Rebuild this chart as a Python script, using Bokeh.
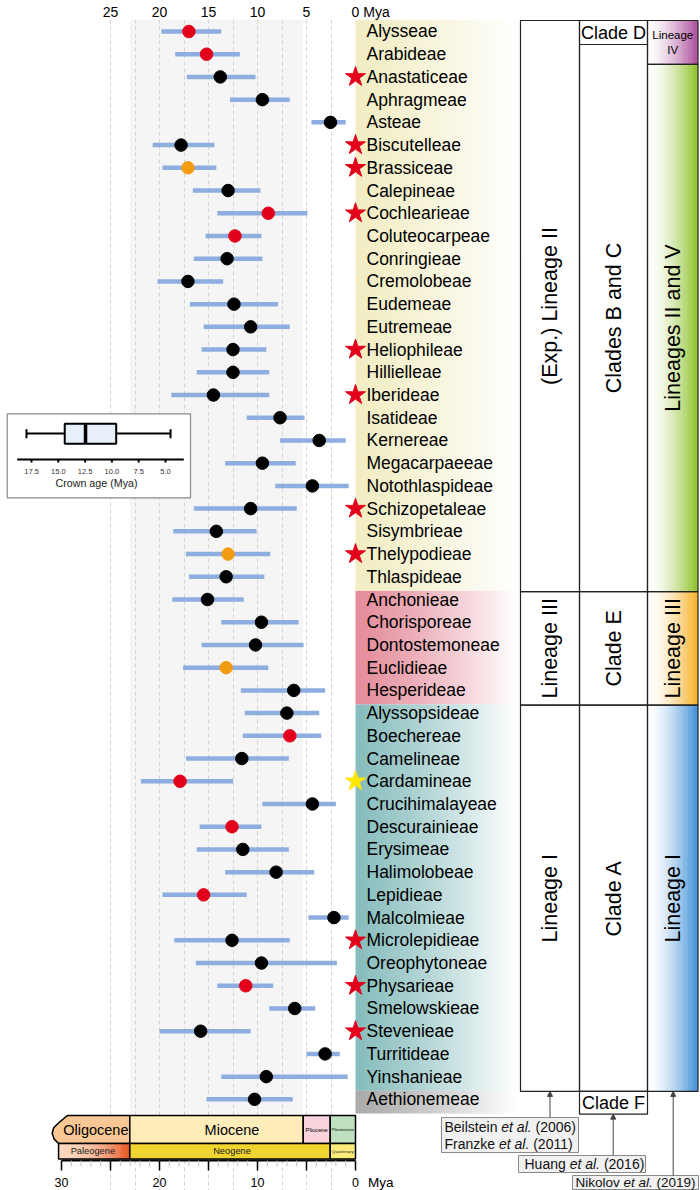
import numpy as np
from bokeh.plotting import figure
from bokeh.models import (Range1d, LinearAxis, FixedTicker, Grid, Arrow,
                          NormalHead, ColumnDataSource)
from bokeh.core.properties import value
from bokeh.embed import file_html
from bokeh.resources import INLINE

FONT = "Liberation Sans"

# ---------------- data ----------------
tribes = ["Alysseae", "Arabideae", "Anastaticeae", "Aphragmeae", "Asteae", "Biscutelleae",
          "Brassiceae", "Calepineae", "Cochlearieae", "Coluteocarpeae", "Conringieae",
          "Cremolobeae", "Eudemeae", "Eutremeae", "Heliophileae", "Hillielleae", "Iberideae",
          "Isatideae", "Kernereae", "Megacarpaeeae", "Notothlaspideae", "Schizopetaleae",
          "Sisymbrieae", "Thelypodieae", "Thlaspideae",
          "Anchonieae", "Chorisporeae", "Dontostemoneae", "Euclidieae", "Hesperideae",
          "Alyssopsideae", "Boechereae", "Camelineae", "Cardamineae", "Crucihimalayeae",
          "Descurainieae", "Erysimeae", "Halimolobeae", "Lepidieae", "Malcolmieae",
          "Microlepidieae", "Oreophytoneae", "Physarieae", "Smelowskieae", "Stevenieae",
          "Turritideae", "Yinshanieae", "Aethionemeae"]

crown_age = [17.0, 15.2, 13.8, 9.5, 2.55, 17.8, 17.1, 13.0, 8.9, 12.3, 13.1, 17.1, 12.4,
             10.7, 12.5, 12.5, 14.5, 7.7, 3.7, 9.5, 4.4, 10.7, 14.2, 13.0, 13.2,
             15.1, 9.6, 10.2, 13.2, 6.3,
             7.0, 6.7, 11.6, 17.9, 4.4, 12.6, 11.5, 8.1, 15.5, 2.2, 12.6, 9.6, 11.2, 6.2,
             15.8, 3.1, 9.1,
             10.3]
hpd_old = [19.8, 18.4, 17.2, 12.8, 4.5, 20.7, 19.7, 16.6, 14.1, 15.3, 16.5, 20.2, 16.9,
           15.5, 15.7, 16.2, 18.8, 11.1, 7.7, 13.3, 8.2, 16.5, 18.6, 17.3, 17.0,
           18.7, 13.7, 15.7, 17.6, 11.7,
           11.3, 11.5, 17.3, 21.9, 9.5, 15.9, 16.2, 13.3, 19.7, 4.8, 18.5, 16.3, 14.1, 8.8,
           20.0, 5.0, 13.7,
           15.2]
hpd_young = [13.7, 11.8, 10.2, 6.7, 1.0, 14.4, 14.2, 9.7, 4.9, 9.6, 9.5, 13.5, 7.9,
             6.7, 9.1, 8.8, 8.8, 5.2, 1.0, 6.1, 0.7, 6.0, 10.1, 8.7, 9.3,
             11.4, 5.8, 5.3, 8.9, 3.1,
             3.7, 3.5, 6.8, 12.5, 2.0, 9.6, 6.8, 4.2, 11.1, 0.7, 6.7, 1.9, 8.4, 4.1,
             10.7, 1.6, 0.8,
             6.4]
red_dot_tribes = ["Alysseae", "Arabideae", "Cochlearieae", "Coluteocarpeae", "Boechereae",
                  "Cardamineae", "Descurainieae", "Lepidieae", "Physarieae"]
orange_dot_tribes = ["Brassiceae", "Thelypodieae", "Euclidieae"]
red_star_tribes = ["Anastaticeae", "Biscutelleae", "Brassiceae", "Cochlearieae", "Heliophileae",
                   "Iberideae", "Schizopetaleae", "Thelypodieae", "Microlepidieae",
                   "Physarieae", "Stevenieae"]
yellow_star_tribes = ["Cardamineae"]

# groups (first row, last row)
group_rows = [(0, 24), (25, 29), (30, 46), (47, 47)]
group_band_colors = ["#f2edc3", "#e48c9b", "#88bdbd", "#ababab"]
col1_labels = ["(Exp.) Lineage II", "Lineage III", "Lineage I"]
col2_labels = ["Clades B and C", "Clade E", "Clade A"]
col3_labels = ["Lineages II and V", "Lineage III", "Lineage I"]
col3_colors = ["#8cc026", "#f5ae22", "#3b8dd6"]

# inset box plot of crown ages (Mya)
box_whisker_old = 17.97
box_q_old = 14.4
box_median = 12.46
box_q_young = 9.6
box_whisker_young = 4.53
inset_ticks = [17.5, 15.0, 12.5, 10.0, 7.5, 5.0]

# geologic time scale (Mya)
epoch_names = ["Oligocene", "Miocene", "Pliocene", "Pleistocene"]
epoch_start = [33.9, 23.03, 5.333, 2.58]
epoch_end = [23.03, 5.333, 2.58, 0.0]
epoch_colors = ["#f8c793", "#feedb9", "#f9d3dc", "#bfe0bf"]
period_names = ["Paleogene", "Neogene", "Quaternary"]
period_start = [33.9, 23.03, 2.58]
period_end = [23.03, 2.58, 0.0]
period_colors = ["#fbd6bd", "#f0d531", "#fbeb7b"]
time_major = [0, 5, 10, 15, 20, 25, 30]
time_labelled = [30, 20, 10, 0]
time_minor = list(range(0, 31))

# references (author, year) lines
refs = [[("Beilstein", "(2006)"), ("Franzke", "(2011)")],
        [("Huang", "(2016)")],
        [("Nikolov", "(2019)")]]

# ---------------- helpers ----------------
def px2age(px):
    # horizontal pixel -> age on the main (Mya) scale
    return (355.0 - px) / 9.8

def y2row(py):
    # vertical pixel -> row unit
    return (py - 30.0) / 22.74

def hexrgb(c):
    return np.array([int(c[i:i + 2], 16) for i in (1, 3, 5)], dtype=float)

def mix(c1, c2, t):
    a, b = hexrgb(c1), hexrgb(c2)
    c = a + (b - a) * t
    return "#%02x%02x%02x" % tuple(int(round(v)) for v in c)

def gradient(p, x0, x1, y0, y1, c0, c1, n=48, power=1.0):
    edges = np.linspace(x0, x1, n + 1)
    ts = ((np.arange(n) + 0.5) / n) ** power
    cols = [mix(c0, c1, t) for t in ts]
    eps = (x1 - x0) / n * 0.3
    right = edges[1:] + eps
    right[-1] = edges[-1]
    p.quad(left=edges[:-1], right=right, top=[y0] * n, bottom=[y1] * n,
           fill_color=cols, line_color=None)

# ---------------- figure ----------------
W, H = 700, 1190
p = figure(width=W, height=H, x_range=Range1d(px2age(0), px2age(W)),
           y_range=Range1d(y2row(H), y2row(18)), x_axis_type=None, y_axis_type=None,
           output_backend="svg", toolbar_location=None,
           min_border_left=0, min_border_right=0, min_border_top=18, min_border_bottom=0,
           outline_line_color=None, background_fill_color="white",
           border_fill_color="white")

n = len(tribes)
rows = np.arange(n)

# Miocene shading
shade = p.quad(left=[epoch_start[1]], right=[epoch_end[1]], top=[y2row(18)],
               bottom=[y2row(1113)], fill_color="#f5f5f5", line_color=None)
shade.level = "image"

# grid lines every 2.5 Myr
grid = Grid(dimension=0, ticker=FixedTicker(ticks=list(np.arange(2.5, 25.01, 2.5))),
            grid_line_color="#d4d4d4", grid_line_dash="4 3", grid_line_width=1)
p.add_layout(grid)

# top axis (the unit is an extra labelled tick)
MYA_TOP = px2age(376)
ax_top = LinearAxis(ticker=FixedTicker(ticks=[0, 5, 10, 15, 20, 25, MYA_TOP]),
                    major_label_overrides={MYA_TOP: "Mya"},
                    axis_line_color=None, major_tick_line_color=None,
                    minor_tick_line_color=None, major_tick_out=0, major_tick_in=0,
                    major_label_standoff=0,
                    major_label_text_font=FONT, major_label_text_font_size="14px",
                    major_label_text_color="black")
p.add_layout(ax_top, "above")

# label bands (fade to white)
band_right = px2age(516)
for (r0, r1), col in zip(group_rows, group_band_colors):
    top = y2row(18) if r0 == 0 else r0 - 0.5 + 0.12
    bot = r1 + 0.5 + 0.12
    gradient(p, 0.0, band_right, top, bot, col, "#ffffff", n=40, power=1.2)

# geologic time scale
TS_LEFT = 30.3
E_TOP, E_MID, E_BOT = y2row(1115), y2row(1143), y2row(1158.5)
olig_x = [TS_LEFT, 30.75, 30.95, 30.8, 30.2, 29.7, 29.4, epoch_end[0], epoch_end[0]]
olig_y = [E_MID, 48.75, 48.5, 48.25, 48.0, 47.82, E_TOP, E_TOP, E_MID]
p.patch(olig_x, olig_y, fill_color=epoch_colors[0], line_color="black", line_width=1.5)
p.quad(left=epoch_start[1:], right=epoch_end[1:], top=[E_TOP] * 3, bottom=[E_MID] * 3,
       fill_color=epoch_colors[1:], line_color="black", line_width=1.5)
gradient(p, TS_LEFT, period_end[0], E_MID, E_BOT, period_colors[0], "#e6501a", n=40, power=2.2)
p.quad(left=[TS_LEFT] + period_start[1:], right=period_end, top=[E_MID] * 3,
       bottom=[E_BOT] * 3, fill_color=[None] + period_colors[1:], line_color="black",
       line_width=1.5)
epoch_label_x = [26.5, 12.6, 3.96, 1.29]
epoch_fs = ["14.5px", "14.5px", "5.8px", "4.3px"]
for nm, x, fs in zip(epoch_names, epoch_label_x, epoch_fs):
    p.text(x=[x], y=[(E_TOP + E_MID) / 2], text=[nm], text_font=value(FONT),
           text_font_size=value(fs), text_align="center", text_baseline="middle",
           text_color="black")
period_label_x = [26.8, 12.6, 1.29]
period_fs = ["9.3px", "9.3px", "4.3px"]
for nm, x, fs in zip(period_names, period_label_x, period_fs):
    p.text(x=[x], y=[(E_MID + E_BOT) / 2], text=[nm], text_font=value(FONT),
           text_font_size=value(fs), text_align="center", text_baseline="middle",
           text_color="#222222")

# time-scale ruler
AX_Y = y2row(1160)
p.segment(x0=[max(time_major)], x1=[min(time_major)], y0=[AX_Y], y1=[AX_Y],
          line_color="black", line_width=2)
p.segment(x0=time_minor, x1=time_minor, y0=[AX_Y] * len(time_minor),
          y1=[y2row(1166)] * len(time_minor), line_color="#c4c4c4", line_width=1)
p.segment(x0=time_major, x1=time_major, y0=[AX_Y] * len(time_major),
          y1=[y2row(1170)] * len(time_major), line_color="black", line_width=1.5)
p.text(x=time_labelled, y=[y2row(1182)] * len(time_labelled),
       text=[str(t) for t in time_labelled], text_font=value(FONT),
       text_font_size=value("12.5px"), text_align="center", text_baseline="middle",
       text_color="black")
p.text(x=[px2age(367.5)], y=[y2row(1182)], text=["Mya"], text_font=value(FONT),
       text_font_size=value("13.5px"), text_align="left", text_baseline="middle",
       text_color="black")

# inset box plot (own small scale mapped into main coordinates)
INSET_K, INSET_OFF = 10.72 / 9.8, 13.918
def inset_x(v):
    return INSET_OFF + INSET_K * np.asarray(v, dtype=float)

p.quad(left=[px2age(6.7)], right=[px2age(190)], top=[y2row(412.7)], bottom=[y2row(496.7)],
       fill_color="white", line_color="#8a8a8a", line_width=1.2)
wy = y2row(432.3)
p.segment(x0=[inset_x(box_whisker_old), inset_x(box_q_young)],
          x1=[inset_x(box_q_old), inset_x(box_whisker_young)],
          y0=[wy, wy], y1=[wy, wy], line_color="black", line_width=2)
p.segment(x0=[inset_x(box_whisker_old), inset_x(box_whisker_young)],
          x1=[inset_x(box_whisker_old), inset_x(box_whisker_young)],
          y0=[y2row(428)] * 2, y1=[y2row(437)] * 2, line_color="black", line_width=2)
p.quad(left=[inset_x(box_q_old)], right=[inset_x(box_q_young)], top=[y2row(422.7)],
       bottom=[y2row(442.7)], fill_color="#e6effa", line_color="black", line_width=2)
p.segment(x0=[inset_x(box_median)], x1=[inset_x(box_median)], y0=[y2row(422.7)],
          y1=[y2row(442.7)], line_color="black", line_width=3.5)
p.segment(x0=[px2age(16.7)], x1=[px2age(183.3)], y0=[y2row(458.3)], y1=[y2row(458.3)],
          line_color="black", line_width=2)
p.segment(x0=inset_x(inset_ticks), x1=inset_x(inset_ticks), y0=[y2row(458.3)] * 6,
          y1=[y2row(461.5)] * 6, line_color="black", line_width=2)
p.text(x=inset_x(inset_ticks), y=[y2row(470.7)] * 6, text=["%.1f" % t for t in inset_ticks],
       text_font=value(FONT), text_font_size=value("7.5px"), text_align="center",
       text_baseline="middle", text_color="#333333")
p.text(x=[px2age(96)], y=[y2row(482.3)], text=["Crown age (Mya)"], text_font=value(FONT),
       text_font_size=value("10.7px"), text_align="center", text_baseline="middle",
       text_color="#222222")

# HPD bars and crown ages
dot_col = ["#e2001a" if t in red_dot_tribes else "#f39c11" if t in orange_dot_tribes
           else "black" for t in tribes]
src = ColumnDataSource(dict(tribe=tribes, row=rows, age=crown_age, old=hpd_old,
                            young=hpd_young, col=dot_col))
p.segment(x0="old", x1="young", y0="row", y1="row", source=src, line_color="#8eaee0",
          line_width=4.5)
p.scatter(x="age", y="row", source=src, size=12.5, fill_color="col", line_color="col",
          marker="circle")

# stars
rs = [tribes.index(t) for t in red_star_tribes]
ys = [tribes.index(t) for t in yellow_star_tribes]
p.scatter(x=[0.0] * len(rs), y=rs, marker="star", size=21, fill_color="#e2001a",
          line_color="#e2001a")
p.scatter(x=[0.0] * len(ys), y=ys, marker="star", size=21, fill_color="#ffe800",
          line_color="#ffe800")

# tribe labels
p.text(x=[px2age(366)] * n, y=rows, text=tribes, text_font=value(FONT),
       text_font_size=value("17.5px"), text_align="left", text_baseline="middle",
       text_color="black")

# right-hand classification columns
C1L, C12, C23, C3R = px2age(520), px2age(579), px2age(647), px2age(697.5)
TOP = y2row(19)
CLADE_D_END, LIN4_END = y2row(43), y2row(63)
ends = [r1 + 0.5 + 0.15 for (r0, r1) in group_rows]
starts1 = [TOP, ends[0], ends[1]]
starts2 = [CLADE_D_END, ends[0], ends[1]]
starts3 = [LIN4_END, ends[0], ends[1]]

gradient(p, C23, C3R, TOP, LIN4_END, "#ffffff", "#a94898", n=30, power=1.5)
for s, e, col in zip(starts3, ends[:3], col3_colors):
    gradient(p, C23, C3R, s, e, "#ffffff", col, n=30, power=1.6)

BL = dict(fill_color=None, line_color="#222222", line_width=1.2)
p.quad(left=[C1L] * 3, right=[C12] * 3, top=starts1, bottom=ends[:3], **BL)
p.quad(left=[C12] * 4, right=[C23] * 4, top=[TOP] + starts2, bottom=[CLADE_D_END] + ends[:3], **BL)
p.quad(left=[C12], right=[C23], top=[ends[2]], bottom=[ends[3]], **BL)
p.quad(left=[C23] * 4, right=[C3R] * 4, top=[TOP] + starts3, bottom=[LIN4_END] + ends[:3], **BL)

rot = dict(angle=np.pi / 2, text_font=value(FONT), text_font_size=value("21.5px"),
           text_align="center", text_baseline="middle", text_color="black")
for labels, starts, xc in [(col1_labels, starts1, (C1L + C12) / 2),
                           (col2_labels, starts2, (C12 + C23) / 2),
                           (col3_labels, starts3, (C23 + C3R) / 2)]:
    p.text(x=[xc] * 3, y=[(s + e) / 2 for s, e in zip(starts, ends[:3])], text=labels, **rot)

p.text(x=[(C12 + C23) / 2], y=[y2row(32)], text=["Clade D"],
       text_font=value(FONT), text_font_size=value("18px"), text_align="center",
       text_baseline="middle")
p.text(x=[(C12 + C23) / 2], y=[(ends[2] + ends[3]) / 2], text=["Clade F"],
       text_font=value(FONT), text_font_size=value("18px"), text_align="center",
       text_baseline="middle")
p.text(x=[(C23 + C3R) / 2] * 2, y=[y2row(33.5), y2row(48.5)], text=["Lineage", "IV"],
       text_font=value(FONT), text_font_size=value("11.5px"), text_align="center",
       text_baseline="middle")

# reference boxes with arrows
CW = {' ': 278, '(': 333, ')': 333, '.': 278, '0': 556, '1': 556, '2': 556, '6': 556,
      '9': 556, 'B': 667, 'F': 611, 'H': 722, 'N': 722, 'a': 556, 'e': 556, 'i': 222,
      'k': 500, 'l': 222, 'n': 556, 'o': 556, 's': 500, 't': 278, 'u': 556, 'v': 500,
      'z': 500, 'g': 556, 'r': 333}

def twidth(s, fs):
    return sum(CW.get(c, 556) for c in s) * fs / 1000.0

def add_ref(lines, box, text_left, line_y, fs, arrow_x, arrow_to):
    x0, x1, y0, y1 = box
    p.quad(left=[px2age(x0)], right=[px2age(x1)], top=[y2row(y0)], bottom=[y2row(y1)],
           fill_color="#f1f1f1", line_color="#8a8a8a", line_width=1)
    for ly, (author, year) in zip(line_y, lines):
        xo = 0.0
        for piece, style in [(author, "normal"), ("et al.", "italic"), (year, "normal")]:
            p.text(x=[px2age(text_left)], y=[y2row(ly)], x_offset=xo, text=[piece],
                   text_font=value(FONT), text_font_size=value("%gpx" % fs),
                   text_font_style=style, text_align="left", text_baseline="middle",
                   text_color="#111111")
            xo += twidth(piece + " ", fs)
    p.add_layout(Arrow(x_start=px2age(arrow_x), y_start=y2row(y0), x_end=px2age(arrow_x),
                       y_end=arrow_to, line_color="#444444", line_width=1,
                       end=NormalHead(size=5, fill_color="#444444", line_color="#444444")))

add_ref(refs[0], (441, 578, 1117, 1152), 444, [1126.7, 1143], 14, 549.5, ends[2])
add_ref(refs[1], (518, 645, 1155, 1172), 524, [1163.7], 14, 612.7, ends[3])
add_ref(refs[2], (572, 698, 1175, 1189), 575, [1181.7], 13.5, 672.7, ends[2])

open("out.html", "w").write(file_html(p, INLINE))
